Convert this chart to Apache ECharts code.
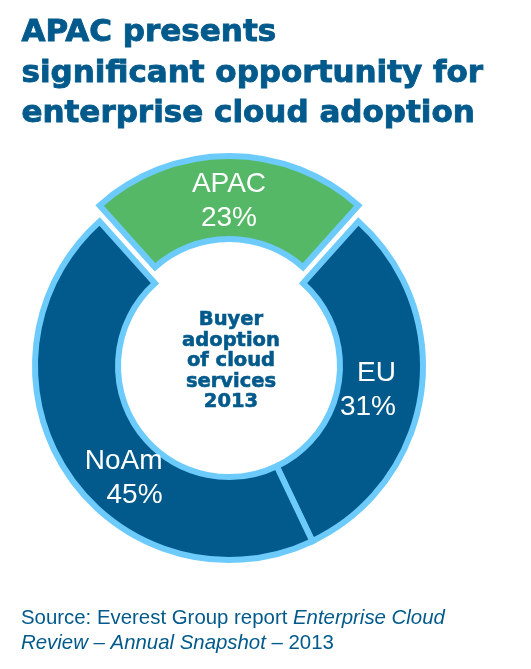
<!DOCTYPE html>
<html><head><meta charset="utf-8">
<script src="https://cdn.jsdelivr.net/npm/echarts@6/dist/echarts.min.js"></script>
<style>html,body{margin:0;padding:0;background:#fff}#c{width:531px;height:669px}</style>
</head><body><div id="c"></div>
<script>
// ---- data ----
const titleLines = ['APAC presents', 'significant opportunity for', 'enterprise cloud adoption'];
const centerLines = ['Buyer', 'adoption', 'of cloud', 'services', '2013'];
const regions = ['APAC', 'EU', 'NoAm'];
const shares = [23, 31, 45];
const highlighted = 'APAC';
const sourcePlain = 'Source: Everest Group report ';
const sourceItalic1 = 'Enterprise Cloud';
const sourceItalic2 = 'Review – Annual Snapshot';
const sourceTail = ' – 2013';

// ---- style ----
const DARK = '#015A8B';
const LIGHT = '#6CCBFB';
const GREEN = '#55B866';
const total = shares.reduce((a, b) => a + b, 0);
const firstSpan = shares[0] / total * 360;
const labelTweaks = {
  APAC: { offset: [0, 0], padding: [14, 0, 0, 0], lineWidth: 80 },
  EU: { offset: [-16, 2], padding: 0, lineWidth: 58 },
  NoAm: { offset: [23, 26], padding: 0, lineWidth: 80 }
};

const chart = echarts.init(document.getElementById('c'), null, { renderer: 'canvas' });
chart.setOption({
  animation: false,
  graphic: [
    {
      type: 'text', left: 21, top: 13,
      style: {
        text: titleLines.join('\n'),
        font: 'bold 31px "DejaVu Sans"',
        fill: DARK, stroke: DARK, lineWidth: 0.9, lineHeight: 40.5
      }
    },
    {
      type: 'text', x: 231, y: 310,
      style: {
        text: centerLines.join('\n'),
        font: 'bold 19.5px "DejaVu Sans"',
        fill: DARK, stroke: DARK, lineWidth: 0.6,
        lineHeight: 20.5, align: 'center', verticalAlign: 'top'
      },
      z: 10
    },
    {
      type: 'text', left: 21, top: 608,
      style: {
        text: '{n|' + sourcePlain + '}{i|' + sourceItalic1 + '}\n{i|' + sourceItalic2 + '}{n|' + sourceTail + '}',
        rich: {
          n: { fontFamily: '"Liberation Sans", Arial', fontSize: 20.4, fill: DARK, lineHeight: 25 },
          i: { fontFamily: '"Liberation Sans", Arial', fontSize: 20.4, fontStyle: 'italic', fill: DARK, lineHeight: 25 }
        }
      }
    }
  ],
  series: [{
    type: 'pie',
    center: [229, 366],
    radius: [111, 194],
    startAngle: 90 + firstSpan / 2,
    clockwise: true,
    selectedMode: 'single',
    selectedOffset: 16,
    avoidLabelOverlap: false,
    emphasis: { disabled: true },
    itemStyle: { borderColor: LIGHT, borderWidth: 6, borderJoin: 'miter' },
    labelLine: { show: false },
    data: regions.map((r, i) => {
      const t = labelTweaks[r];
      const isHi = r === highlighted;
      const lineStyle = {
        width: t.lineWidth, align: isHi ? 'center' : 'right',
        color: '#ffffff', fontFamily: '"Liberation Sans", Arial',
        fontSize: 28, lineHeight: 34
      };
      return {
        name: r,
        value: shares[i],
        selected: isHi,
        itemStyle: { color: isHi ? GREEN : DARK },
        label: {
          show: true, position: 'inside',
          formatter: '{a|{b}}\n{a|{c}%}',
          offset: t.offset,
          padding: t.padding,
          rich: { a: lineStyle }
        }
      };
    })
  }]
});
</script>
</body></html>
